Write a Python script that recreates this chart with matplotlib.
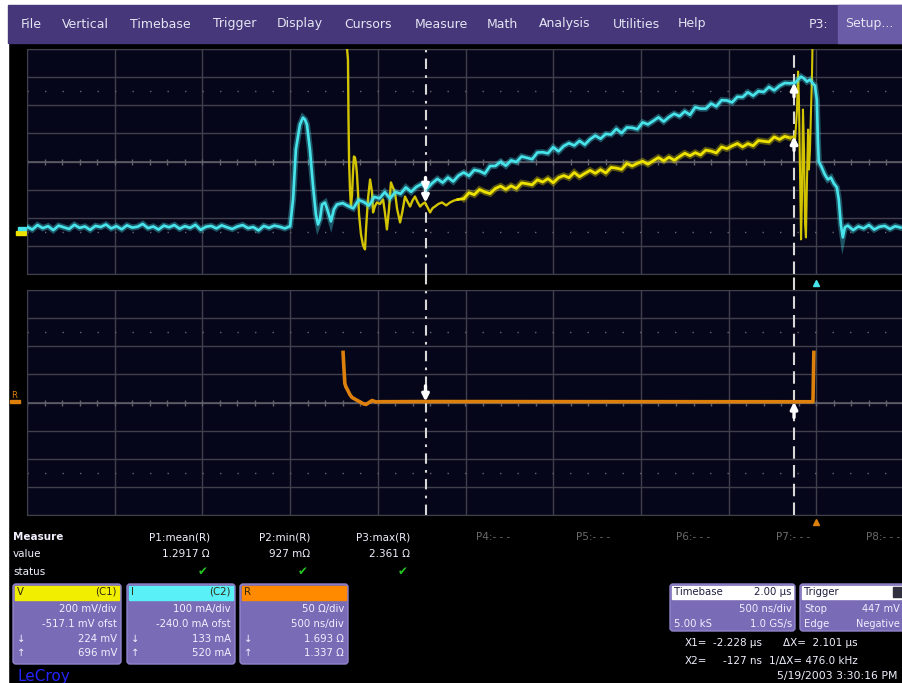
import numpy as np
import matplotlib
matplotlib.use('Agg')
import matplotlib.pyplot as plt
from matplotlib.patches import Rectangle, FancyBboxPatch

# ---- scope settings ----
T_LEFT, T_RIGHT = -4.5, 0.5          # us, 500 ns/div, trigger at div 9
V_DIV, V_OFST = 200.0, 517.1         # C1 mV/div, mV offset
I_DIV, I_OFST = 100.0, 240.0         # C2 mA/div, mA offset
R_DIV, R_OFST = 50.0, 0.0            # math trace, ohm/div
DT = 0.03                            # us between the samples kept below

# C2 current (mA)
i_base_t0 = -4.50
i_base = [8, -2, 14, 3, 10, -4, 12, 6, 0, 15, 4, 9, -3, 11, 7, 16, 2, 10, -1, 13,
          5, 8, 18, 3, 9, -2, 12, 6, 14, 1, 10, 4, 15, -3, 8, 11, 2, 13, 6, 0,
          9, 14, 3, 7, -5, 11, 4, 12, 8, 2]
i_pulse_t = [-3.000, -2.983, -2.967, -2.944, -2.927, -2.915, -2.904, -2.887, -2.870,
             -2.853, -2.841, -2.830, -2.818, -2.801, -2.784, -2.767, -2.750, -2.733]
i_pulse = [10, 105, 283, 371, 396, 389, 371, 283, 158, 52, 16, 34, 87, 94, 62, 27, 70, 87]
i_ramp_t0 = -2.70
i_ramp = [92, 82, 73, 103, 96, 83, 114, 109, 131, 108, 132, 125, 148, 132, 150, 160,
          143, 163, 178, 165, 183, 169, 190, 201, 189, 210, 206, 197, 224, 224, 239,
          225, 244, 238, 258, 253, 248, 272, 273, 269, 291, 276, 295, 305, 297, 313,
          300, 319, 332, 321, 338, 336, 356, 341, 361, 360, 355, 379, 372, 384, 397,
          382, 398, 410, 401, 418, 406, 433, 428, 428, 446, 436, 458, 457, 450, 470,
          469, 486, 474, 490, 487, 505, 493, 509, 519, 518, 520]
i_off_t = [-0.104, -0.087, -0.070, -0.053, -0.036, -0.019, -0.008, 0.003, 0.009, 0.014,
           0.031, 0.048, 0.066, 0.083, 0.100, 0.117, 0.128, 0.140, 0.151, 0.163]
i_off = [531, 542, 535, 524, 531, 517, 510, 460, 318, 240, 219, 194, 176, 183, 162,
         148, 105, 16, -30, 6]
i_tail_t0 = 0.18
i_tail = [12, -4, 9, 2, 14, -2, 8, 11, 0, 10, 5]

# C1 voltage (mV); 1500 = off the top of the screen
v_ring_t = [-2.682, -2.676, -2.670, -2.667, -2.664, -2.659, -2.653, -2.647, -2.641,
            -2.636, -2.630, -2.624, -2.619, -2.613, -2.607, -2.596, -2.584, -2.573,
            -2.567, -2.556, -2.544, -2.533, -2.527, -2.516, -2.505, -2.488, -2.470,
            -2.459, -2.448, -2.436, -2.425, -2.413, -2.402, -2.390, -2.373, -2.360,
            -2.345, -2.330, -2.316, -2.302, -2.288, -2.274, -2.259, -2.245, -2.231,
            -2.216, -2.202, -2.188, -2.174, -2.155, -2.134, -2.110, -2.088, -2.065, -2.043]
v_ring = [1500, 1330, 1240, 816, 531, 330, 197, 280, 450, 553, 545, 500, 430, 300,
          140, 0, -80, -108, 40, 250, 389, 300, 155, 200, 226, 215, 247, 150, 34, 180,
          368, 330, 297, 180, 84, 160, 268, 230, 197, 240, 268, 230, 197, 215, 226,
          190, 155, 185, 197, 215, 226, 205, 226, 240, 247]
v_ramp_t0 = -2.01
v_ramp = [253, 295, 281, 318, 300, 289, 325, 342, 319, 344, 325, 365, 359, 351, 387,
          371, 395, 366, 402, 417, 402, 439, 409, 432, 454, 433, 459, 435, 475, 470,
          461, 503, 485, 504, 519, 498, 522, 545, 522, 548, 526, 552, 576, 558, 580,
          563, 598, 591, 578, 621, 608, 628, 645, 621, 644, 629, 666, 661, 656, 692,
          674, 696, 685]
v_off_t = [-0.127, -0.121, -0.110, -0.104, -0.099, -0.093, -0.087, -0.082, -0.076,
           -0.070, -0.064, -0.059, -0.053, -0.047, -0.042, -0.036, -0.030, -0.025,
           -0.022, -0.019]
v_off = [696, 673, 887, 1157, 958, 460, -37, 247, 887, 602, 70, -23, 389, 744, 460,
         602, 887, 1100, 1320, 1500]

# R = V / I (ohm)
r_t = [-2.698, -2.693, -2.688, -2.682, -2.670, -2.659, -2.647, -2.636, -2.619, -2.601,
       -2.584, -2.567, -2.550, -2.533, -2.510, -2.487, -2.228, -0.127, -0.019, -0.014]
r_ohm = [89, 60, 34, 28, 21, 14, 9, 7, 4, 1, -2, -3.5, 0, 3.5, 1, 1.4, 1.693, 1.337, 1.3, 89]

# cursors
X1, X2 = -2.228, -0.127
c1_at = [224, 696]      # mV
c2_at = [133, 520]      # mA
r_at = [1.693, 1.337]   # ohm

menu_items = ['File', 'Vertical', 'Timebase', 'Trigger', 'Display', 'Cursors',
              'Measure', 'Math', 'Analysis', 'Utilities', 'Help']
menu_x = [31, 85, 160, 235, 300, 368, 441, 502, 565, 636, 692]
meas_names = ['P1:mean(R)', 'P2:min(R)', 'P3:max(R)', 'P4:- - -', 'P5:- - -',
              'P6:- - -', 'P7:- - -', 'P8:- - -']
meas_values = ['1.2917 \u03a9', '927 m\u03a9', '2.361 \u03a9']
chan_boxes = [
    ('V', '(C1)', '#f2ee00', ['200 mV/div', '-517.1 mV ofst', '224 mV', '696 mV']),
    ('I', '(C2)', '#5af0f8', ['100 mA/div', '-240.0 mA ofst', '133 mA', '520 mA']),
    ('R', '', '#ff8a00', ['50 \u03a9/div', '500 ns/div', '1.693 \u03a9', '1.337 \u03a9']),
]

W, H = 903, 683
GX0, GW, GH = 27, 877, 225
BG = '#06061a'
GRID = '#40404c'
CENTER = '#62626c'
CYAN = '#48e4ec'
YELLOW = '#eee200'
OLIVE = '#d2c400'
ORANGE = '#de800c'
BOXC = '#7a6bb6'
TXT = '#f0f0ff'

plt.rcParams['font.family'] = ['DejaVu Sans']

fig = plt.figure(figsize=(W / 100, H / 100), dpi=100, facecolor='black')
ui = fig.add_axes([0, 0, 1, 1])
ui.set_xlim(0, W)
ui.set_ylim(H, 0)
ui.axis('off')

# white screenshot margin + menu bar
ui.add_patch(Rectangle((0, 0), W, 5, color='white'))
ui.add_patch(Rectangle((0, 0), 8, H, color='white'))
ui.add_patch(Rectangle((8, 5), W - 8, 38, color='#46377a'))
ui.add_patch(Rectangle((838, 5), 65, 38, color='#6b5ca8'))
for name, x in zip(menu_items, menu_x):
    ui.text(x, 24, name, color='#e4e4f2', fontsize=9, ha='center', va='center')
ui.text(819, 24, 'P3:', color='#e4e4f2', fontsize=9, ha='center', va='center')
ui.text(869, 24, 'Setup...', color='#e4e4f2', fontsize=9, ha='center', va='center')


def grid_axes(top_px, sharex=None):
    ax = fig.add_axes([GX0 / W, 1 - (top_px + GH) / H, GW / W, GH / H], sharex=sharex)
    ax.set_facecolor(BG)
    ax.set_xlim(T_LEFT, T_RIGHT)
    ax.set_ylim(-4, 4)
    ax.set_xticks(np.arange(-4.5, 0.51, 0.5))
    ax.set_yticks(range(-4, 5))
    ax.tick_params(length=0, labelbottom=False, labelleft=False)
    ax.grid(True, color=GRID, lw=1)
    for s in ax.spines.values():
        s.set_color(GRID)
    ax.axhline(0, color=CENTER, lw=1.1)
    ax.plot(np.arange(-4.5, 0.5, 0.1), np.zeros(50), '|', color=CENTER, ms=4)
    for yy in (-2.5, 2.5):
        ax.axhline(yy, color=CENTER, lw=1, ls=(0, (1, 11.6)))
    return ax


def twin(ax, div, ofst):
    t = ax.twinx()
    t.set_ylim(ofst - 4 * div, ofst + 4 * div)
    t.axis('off')
    return t


def seg_times(t0, vals):
    return t0 + DT * np.arange(len(vals))


def fuzzy(ax, t, y, color, lw):
    # phosphor-like trace: soft wide halo under a sharp core
    ax.plot(t, y, color=color, lw=lw * 2.3, alpha=0.35, solid_joinstyle='miter')
    ax.plot(t, y, color=color, lw=lw)


ax_top = grid_axes(49)
ax_bot = grid_axes(290, sharex=ax_top)
ax_v = twin(ax_top, V_DIV, V_OFST)
ax_i = twin(ax_top, I_DIV, I_OFST)
ax_r = twin(ax_bot, R_DIV, R_OFST)

# traces
ax_v.plot(v_ring_t, v_ring, color=OLIVE, lw=1.7)
fuzzy(ax_v, seg_times(v_ramp_t0, v_ramp), v_ramp, YELLOW, 2.0)
ax_v.plot([v_ring_t[-1], v_ramp_t0], [v_ring[-1], v_ramp[0]], color=YELLOW, lw=2.0)
ax_v.plot([seg_times(v_ramp_t0, v_ramp)[-1]] + v_off_t, [v_ramp[-1]] + v_off,
          color=OLIVE, lw=1.5)

i_t = np.concatenate([seg_times(i_base_t0, i_base), i_pulse_t, seg_times(i_ramp_t0, i_ramp),
                      i_off_t, seg_times(i_tail_t0, i_tail)])
i_ma = np.concatenate([i_base, i_pulse, i_ramp, i_off, i_tail])
fuzzy(ax_i, i_t, i_ma, CYAN, 1.9)

ax_r.plot(r_t, r_ohm, color=ORANGE, lw=2.6)

# cursors
for ax in (ax_top, ax_bot):
    ext = 1 if ax is ax_top else (GH + 16) / GH
    ax.axvline(X1, ymin=0, ymax=ext, color='#d8d8d8', lw=1.5, ls=(0, (5, 3, 1.3, 3)), clip_on=False)
    ax.axvline(X2, ymin=0, ymax=ext, color='#d8d8d8', lw=1.5, ls=(0, (6, 3)), clip_on=False)

arrow = dict(arrowstyle='-|>', color='white', lw=2.4, mutation_scale=10, shrinkA=0, shrinkB=0)
for k, (x, sgn) in enumerate([(X1, 1), (X2, -1)]):
    ax_i.annotate('', xy=(x, c2_at[k]), xytext=(x, c2_at[k] + sgn * 50), arrowprops=arrow)
    ax_v.annotate('', xy=(x, c1_at[k]), xytext=(x, c1_at[k] + sgn * 100), arrowprops=arrow)
    ax_r.annotate('', xy=(x, r_at[k]), xytext=(x, r_at[k] + sgn * 28), arrowprops=arrow)

# trigger position markers
ax_top.plot([0], [-4.32], marker='^', color=CYAN, ms=5, clip_on=False)
ax_bot.plot([0], [-4.25], marker='^', color=ORANGE, ms=5, clip_on=False)

# channel reference markers on the left
ui.add_patch(Rectangle((16, 231), 10, 4, color=YELLOW))
ui.add_patch(Rectangle((18, 227), 8, 3, color=CYAN))
ui.text(14, 396, 'R', color=ORANGE, fontsize=6, ha='center', va='center')
ui.add_patch(Rectangle((10, 400), 10, 3, color=ORANGE))

# measurement table
fs = 7.5
ui.text(13, 537, 'Measure', color=TXT, fontsize=fs, fontweight='bold', va='center')
ui.text(13, 554, 'value', color=TXT, fontsize=fs, va='center')
ui.text(13, 572, 'status', color=TXT, fontsize=fs, va='center')
for k, name in enumerate(meas_names):
    xr = min(210 + 100 * k, 900)
    col = TXT if k < len(meas_values) else '#6a6a6a'
    ui.text(xr, 537, name, color=col, fontsize=fs, ha='right', va='center')
    if k < len(meas_values):
        ui.text(xr, 554, meas_values[k], color=TXT, fontsize=fs, ha='right', va='center')
        ui.text(xr - 2, 572, '\u2714', color='#22c822', fontsize=8.5, ha='right', va='center')

# channel descriptor boxes
for k, (lab, tag, hcol, lines) in enumerate(chan_boxes):
    x0 = [13, 127, 240][k]
    ui.add_patch(FancyBboxPatch((x0, 584), 108, 80, boxstyle='round,pad=0,rounding_size=3',
                                fc=BOXC, ec='#9285cc', lw=1))
    ui.add_patch(Rectangle((x0 + 2, 585.5), 104, 14, color=hcol))
    ui.text(x0 + 4, 592, lab, color='#302a10', fontsize=7.3, va='center')
    ui.text(x0 + 104, 592, tag, color='#302a10', fontsize=7.3, ha='right', va='center')
    for s, y in zip(lines, [609, 624, 639, 653]):
        ui.text(x0 + 104, y, s, color=TXT, fontsize=7.3, ha='right', va='center')
    ui.text(x0 + 4, 639, '\u2193', color=TXT, fontsize=7.3, va='center')
    ui.text(x0 + 4, 653, '\u2191', color=TXT, fontsize=7.3, va='center')

# timebase / trigger boxes
ui.add_patch(FancyBboxPatch((670, 584), 125, 47, boxstyle='round,pad=0,rounding_size=3',
                            fc=BOXC, ec='#9285cc', lw=1))
ui.add_patch(Rectangle((672, 585.5), 121, 13, color='white'))
ui.text(674, 592, 'Timebase', color='#202040', fontsize=7.3, va='center')
ui.text(792, 592, '2.00 \u00b5s', color='#202040', fontsize=7.3, ha='right', va='center')
ui.text(792, 609, '500 ns/div', color=TXT, fontsize=7.3, ha='right', va='center')
ui.text(674, 624, '5.00 kS', color=TXT, fontsize=7.3, va='center')
ui.text(792, 624, '1.0 GS/s', color=TXT, fontsize=7.3, ha='right', va='center')

ui.add_patch(FancyBboxPatch((800, 584), 120, 47, boxstyle='round,pad=0,rounding_size=3',
                            fc=BOXC, ec='#9285cc', lw=1))
ui.add_patch(Rectangle((802, 585.5), 116, 13, color='white'))
ui.add_patch(Rectangle((893, 587), 10, 10, color='#303040'))
ui.text(804, 592, 'Trigger', color='#202040', fontsize=7.3, va='center')
ui.text(804, 609, 'Stop', color=TXT, fontsize=7.3, va='center')
ui.text(900, 609, '447 mV', color=TXT, fontsize=7.0, ha='right', va='center')
ui.text(804, 624, 'Edge', color=TXT, fontsize=7.3, va='center')
ui.text(900, 624, 'Negative', color=TXT, fontsize=7.0, ha='right', va='center')

# cursor readouts
ui.text(685, 643, 'X1=', color=TXT, fontsize=7.5, va='center')
ui.text(762, 643, '-2.228 \u00b5s', color=TXT, fontsize=7.5, ha='right', va='center')
ui.text(858, 643, '\u0394X=  2.101 \u00b5s', color=TXT, fontsize=7.5, ha='right', va='center')
ui.text(685, 661, 'X2=', color=TXT, fontsize=7.5, va='center')
ui.text(762, 661, '-127 ns', color=TXT, fontsize=7.5, ha='right', va='center')
ui.text(858, 661, '1/\u0394X= 476.0 kHz', color=TXT, fontsize=7.5, ha='right', va='center')
ui.text(898, 676, '5/19/2003 3:30:16 PM', color=TXT, fontsize=7.8, ha='right', va='center')

ui.text(18, 676, 'LeCroy', color='#2424ff', fontsize=11, va='center')

fig.savefig('out.png', dpi=100, facecolor='black')
